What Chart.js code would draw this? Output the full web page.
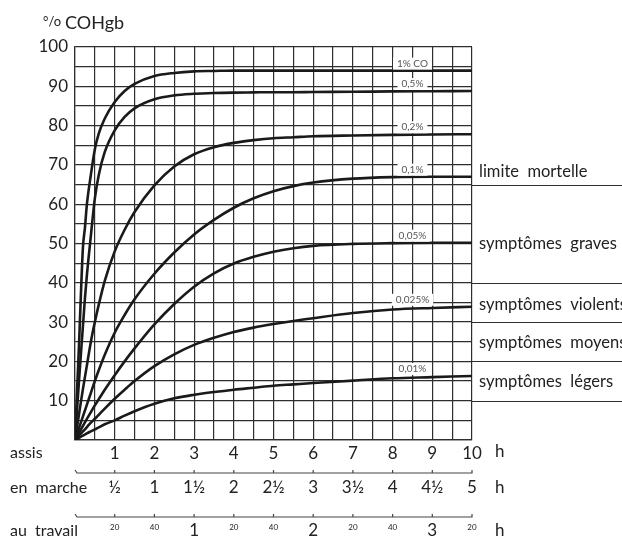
<!DOCTYPE html>
<html lang="fr">
<head>
<meta charset="utf-8">
<script src="https://cdn.jsdelivr.net/npm/chart.js@4.4.1/dist/chart.umd.min.js"></script>
<style>
  html, body { margin: 0; padding: 0; background: #fff; }
</style>
</head>
<body>
<canvas id="coChart" width="622" height="538"></canvas>
<script>
// Durée d'exposition (heures, position assise)
const heures = [0, 0.1, 0.2, 0.25, 0.3, 0.4, 0.5, 0.6, 0.75, 1, 1.25, 1.5, 2, 2.5, 3, 3.5, 4, 4.5, 5, 5.5, 6, 7, 8, 9, 10];

// % COHgb pour chaque concentration de CO
const co1 =    [0, 24, 49, 54, 60, 67.5, 74, 78, 81.8, 86, 88.8, 90.6, 92.6, 93.4, 93.8, 93.9, 94, 94, 94, 94, 94, 94, 94, 94, 94];
const co05 =   [0, 15, 29, 36, 42, 52, 61.5, 67.5, 73.3, 78.8, 82.2, 84.4, 86.7, 87.7, 88.1, 88.3, 88.4, 88.45, 88.5, 88.5, 88.55, 88.6, 88.7, 88.75, 88.8];
const co02 =   [0, 6.5, 13, 16, 19, 25, 30, 34.5, 40.5, 48, 53.5, 58, 64.8, 69.6, 72.7, 74.5, 75.6, 76.3, 76.8, 77.05, 77.3, 77.5, 77.65, 77.75, 77.8];
const co01 =   [0, 3, 6, 7.5, 9, 12, 15, 17.8, 21.7, 27.3, 31.8, 35.8, 42.3, 47.7, 52.3, 56, 59.1, 61.5, 63.3, 64.6, 65.5, 66.5, 66.9, 67, 67];
const co005 =  [0, 1.8, 3.6, 4.5, 5.4, 7.1, 8.8, 10.4, 12.8, 16.5, 20, 23.3, 29.4, 34.6, 39, 42.4, 44.9, 46.6, 47.9, 48.8, 49.4, 49.9, 50.1, 50.2, 50.2];
const co0025 = [0, 1.1, 2.2, 2.7, 3.3, 4.4, 5.4, 6.4, 8, 10.5, 12.8, 15, 18.8, 21.8, 24.2, 26, 27.5, 28.6, 29.5, 30.3, 31, 32.3, 33.2, 33.6, 33.9];
const co001 =  [0, 0.55, 1.1, 1.4, 1.7, 2.2, 2.7, 3.2, 4, 5, 6.2, 7.3, 9.2, 10.6, 11.5, 12.2, 12.8, 13.3, 13.8, 14.15, 14.5, 15.1, 15.7, 16, 16.3];

const series = [co1, co05, co02, co01, co005, co0025, co001];
const curveLabels = ['1% CO', '0,5%', '0,2%', '0,1%', '0,05%', '0,025%', '0,01%'];
const labelHour = 8.5;

// Zones de symptômes
const seuils = [65, 40, 30, 20, 10];
const zoneLabels = ['limite  mortelle', 'symptômes  graves', 'symptômes  violents', 'symptômes  moyens', 'symptômes  légers'];
const zoneLabelValues = [68.3, 49.9, 34.4, 24.7, 14.8];

// Échelles secondaires
const marcheLabels = ['½', '1', '1½', '2', '2½', '3', '3½', '4', '4½', '5'];
const travailLabels = ['20', '40', '1', '20', '40', '2', '20', '40', '3', '20'];

const FONT = 'Lato';
const INK = '#222';
const GRID = '#2e2e2e';

const decorPlugin = {
    id: 'decor',
    afterDraw(chart) {
        const ctx = chart.ctx;
        const xs = chart.scales.x;
        const ys = chart.scales.y;
        const area = chart.chartArea;
        ctx.save();

        // titre de l'axe y
        ctx.fillStyle = INK;
        ctx.textBaseline = 'middle';
        ctx.textAlign = 'left';
        ctx.font = '13px ' + FONT;
        ctx.fillText('°/o', 43, 22);
        ctx.font = '18px ' + FONT;
        ctx.fillText('COHgb', 65, 23);

        // lignes des zones
        ctx.strokeStyle = GRID;
        ctx.lineWidth = 1.2;
        seuils.forEach(v => {
            const y = Math.round(ys.getPixelForValue(v)) + 0.5;
            ctx.beginPath();
            ctx.moveTo(area.right, y);
            ctx.lineTo(chart.width, y);
            ctx.stroke();
        });
        ctx.font = '16.5px ' + FONT;
        zoneLabels.forEach((t, i) => {
            ctx.fillText(t, area.right + 7, ys.getPixelForValue(zoneLabelValues[i]));
        });

        // étiquettes des courbes
        ctx.font = '10px ' + FONT;
        ctx.textAlign = 'center';
        curveLabels.forEach((t, i) => {
            const vals = series[i];
            const x = xs.getPixelForValue(labelHour);
            const y = ys.getPixelForValue(vals[vals.length - 1]) - 7;
            const w = ctx.measureText(t).width + 8;
            ctx.fillStyle = '#fff';
            ctx.fillRect(x - w / 2, y - 6, w, 12);
            ctx.fillStyle = '#555';
            ctx.fillText(t, x, y);
        });

        // axes secondaires (en marche, au travail)
        function axisLine(y) {
            ctx.strokeStyle = '#444';
            ctx.lineWidth = 1.2;
            ctx.beginPath();
            ctx.moveTo(xs.getPixelForValue(0), y - 3);
            ctx.lineTo(xs.getPixelForValue(0) + 2, y);
            ctx.lineTo(xs.getPixelForValue(10), y);
            ctx.lineTo(xs.getPixelForValue(10), y - 3);
            ctx.stroke();
            for (let h = 1; h < 10; h++) {
                const x = xs.getPixelForValue(h);
                ctx.beginPath();
                ctx.moveTo(x, y - 3);
                ctx.lineTo(x, y);
                ctx.stroke();
            }
        }
        axisLine(473);
        axisLine(517);

        ctx.fillStyle = INK;
        ctx.textAlign = 'center';
        ctx.font = '17px ' + FONT;
        marcheLabels.forEach((t, i) => {
            ctx.fillText(t, xs.getPixelForValue(i + 1), 488);
        });
        travailLabels.forEach((t, i) => {
            const big = (i + 1) % 3 === 0;
            ctx.font = big ? '17px ' + FONT : '8px ' + FONT;
            ctx.fillText(t, xs.getPixelForValue(i + 1), big ? 531 : 527);
        });

        ctx.textAlign = 'left';
        ctx.font = '17px ' + FONT;
        ctx.fillText('h', 495, 452);
        ctx.fillText('h', 495, 488);
        ctx.fillText('h', 495, 531);
        ctx.font = '16px ' + FONT;
        ctx.fillText('assis', 10, 453);
        ctx.fillText('en  marche', 10, 488);
        ctx.fillText('au  travail', 10, 531);

        ctx.restore();
    }
};

const datasets = series.map((vals, i) => ({
    label: curveLabels[i],
    data: heures.map((h, j) => ({ x: h, y: vals[j] })),
    borderColor: '#1a1a1a',
    borderWidth: 2.6,
    pointRadius: 0,
    fill: false,
    cubicInterpolationMode: 'monotone'
}));

new Chart(document.getElementById('coChart').getContext('2d'), {
    type: 'line',
    data: { datasets: datasets },
    options: {
        responsive: false,
        animation: false,
        layout: { padding: { top: 47, right: 150, left: 0, bottom: 0 } },
        plugins: { legend: { display: false }, tooltip: { enabled: false } },
        scales: {
            x: {
                type: 'linear',
                min: 0,
                max: 10,
                afterFit(scale) { scale.height = 98; },
                grid: { color: GRID, lineWidth: 1.2, drawTicks: false },
                border: { color: GRID, width: 1.2 },
                ticks: {
                    stepSize: 0.5,
                    autoSkip: false,
                    maxRotation: 0,
                    padding: 3,
                    color: INK,
                    font: { family: FONT, size: 17 },
                    callback: v => (Number.isInteger(v) && v > 0) ? v : ''
                }
            },
            y: {
                min: 0,
                max: 100,
                afterFit(scale) { scale.width = 75; },
                grid: { color: GRID, lineWidth: 1.2, drawTicks: false },
                border: { color: GRID, width: 1.2 },
                ticks: {
                    stepSize: 5,
                    autoSkip: false,
                    padding: 7,
                    color: INK,
                    font: { family: FONT, size: 17 },
                    callback: v => (v % 10 === 0 && v > 0) ? v : ''
                }
            }
        }
    },
    plugins: [decorPlugin]
});
</script>
</body>
</html>
